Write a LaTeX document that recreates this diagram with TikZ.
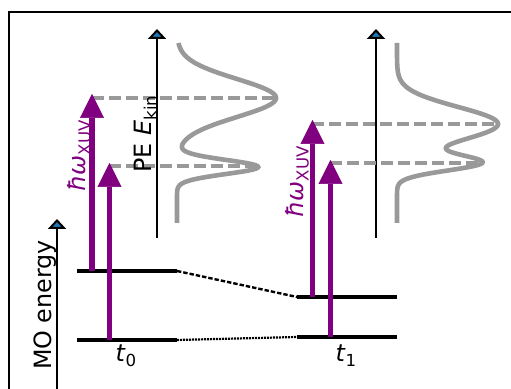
\documentclass[tikz,border=0pt]{standalone}
\usepackage{fontspec}
\setmainfont{DejaVu Sans}
\usetikzlibrary{arrows.meta}
\definecolor{mplblue}{HTML}{1F77B4}
\definecolor{mplpurple}{HTML}{800080}
\definecolor{mplgray}{HTML}{999999}
\newcommand{\lowsub}[1]{\raisebox{-0.22em}{\fontsize{8.3}{10}\selectfont #1}}
\tikzset{
  axisarr/.style={-{Triangle[width=9pt, length=5pt, fill=mplblue, line width=1pt]}, line width=1.2pt, black},
  photonarr/.style={-{Triangle[width=12pt, length=12pt, line width=0.3pt]}, line width=2.6pt, draw=mplpurple},
  levelline/.style={line width=2.3pt, black},
  specline/.style={line width=2.3pt, mplgray},
  peakline/.style={line width=1.7pt, mplgray, dash pattern=on 6pt off 2.5pt},
  corrdash/.style={line width=1.2pt, black, dash pattern=on 2.2pt off 1pt},
  corrdot/.style={line width=1.1pt, black, dash pattern=on 1pt off 0.5pt},
  axislabel/.style={rotate=90, inner sep=0pt, font=\fontsize{11.9}{14}\selectfont},
  timelabel/.style={inner sep=0pt, font=\fontsize{11.9}{14}\selectfont},
}

\begin{document}
\begin{tikzpicture}[x=0.5pt, y=-0.5pt]
  \useasboundingbox (0,0) rectangle (511,389);
  % frame
  \draw[line width=1.2pt] (9,395) -- (9,12) -- (515,12);

  % MO levels at t0 and t1
  \foreach \n/\xa/\yh/\yl in {0/77/271/340, 1/297/297/337} {
    \draw[levelline] (\xa,\yh) coordinate (hi\n-l) -- ++(100,0) coordinate (hi\n-r);
    \draw[levelline] (\xa,\yl) coordinate (lo\n-l) -- ++(100,0) coordinate (lo\n-r);
  }
  \draw[corrdash] (hi0-r) -- (hi1-l);
  \draw[corrdot] (lo0-r) -- (lo1-l);

  % axes
  \coordinate (mo-base) at (57,395);
  \coordinate (mo-tip) at (57,219);
  \draw[axisarr] (mo-base) -- (mo-tip);
  \foreach \n/\xa in {0/157, 1/376} {
    \coordinate (pe\n-base) at (\xa,238);
    \coordinate (pe\n-tip) at (\xa,29);
    \draw[axisarr] (pe\n-base) -- (pe\n-tip);
  }

  % photoelectron spectra
  \draw[specline] plot[domain=43:223, samples=220, variable=\t]
    ({177 + 99*exp(-((\t-98)^2)/722) + 81*exp(-((\t-167)^2)/98)}, \t);
  \draw[specline] plot[domain=43:223, samples=220, variable=\t]
    ({397 + 101*exp(-((\t-124)^2)/578) + 78*exp(-((\t-163)^2)/118)}, \t);

  % XUV photons and peak markers
  \foreach \n/\xa/\xb/\ya/\yb/\pa/\pb in {0/92/109.5/98/166/276/258, 1/312.5/330.5/124/163/498/482} {
    \coordinate (ph\n a-tip) at (\xa,\ya-4);
    \coordinate (ph\n b-tip) at (\xb,\yb-3);
    \coordinate (pk\n a) at (\pa,\ya);
    \coordinate (pk\n b) at (\pb,\yb);
    \draw[peakline] (\xa,\ya) -- (pk\n a);
    \draw[peakline] (\xb,\yb) -- (pk\n b);
    \draw[photonarr] (hi\n-l -| ph\n a-tip) -- (ph\n a-tip);
    \draw[photonarr] (lo\n-l -| ph\n b-tip) -- (ph\n b-tip);
  }

  % labels
  \node[axislabel] (mo-lab) at (45,305) {MO energy};
  \node[axislabel] (pe-lab) at (145,134) {PE \textit{E}\lowsub{kin}};
  \node[axislabel, text=mplpurple] (hw0-lab) at (79,156) {\textit{ħω}\lowsub{XUV}};
  \node[axislabel, text=mplpurple] (hw1-lab) at (297,182) {\textit{ħω}\lowsub{XUV}};
  \node[timelabel] (t0-lab) at (126,356) {\textit{t}\lowsub{0}};
  \node[timelabel] (t1-lab) at (346,356) {\textit{t}\lowsub{1}};
\end{tikzpicture}
\end{document}
